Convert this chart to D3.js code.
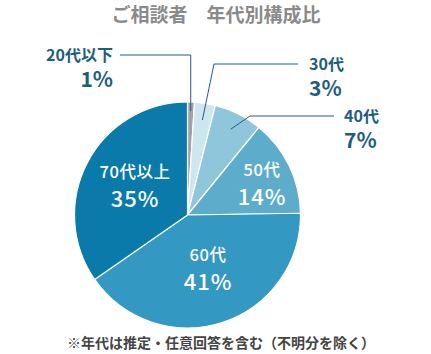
<!DOCTYPE html>
<html>
<head>
<meta charset="utf-8">
<script src="https://cdn.jsdelivr.net/npm/d3@7"></script>
<style>
body{margin:0;background:#fff;font-family:"Noto Sans CJK JP","Noto Sans",sans-serif;}
</style>
</head>
<body>
<div id="chart"></div>
<script>
var categories = ["20代以下","30代","40代","50代","60代","70代以上"];
var values = [1,3,7,14,41,35];
var pctLabels = ["1%","3%","7%","14%","41%","35%"];
var colors = ["#a2a2a2","#cde6ef","#8fc6db","#5eaccc","#3399c2","#0a7aaa"];

var w = 431, h = 354;
var cx = 187.5, cy = 215, r = 113;
var labelCol = "#1d5e7e";

var svg = d3.select("#chart").append("svg").attr("width",w).attr("height",h);

svg.append("text").attr("x",216).attr("y",22).attr("text-anchor","middle")
  .attr("font-size",19).attr("font-weight",700).attr("fill","#8a8a8a")
  .text("ご相談者\u3000年代別構成比");

var pie = d3.pie().sort(null).value(function(d){return d;});
var arcs = pie(values);
var arc = d3.arc().innerRadius(0).outerRadius(r);

var g = svg.append("g").attr("transform","translate("+cx+","+cy+")");
g.selectAll("path").data(arcs).enter().append("path")
  .attr("d",arc)
  .attr("fill",function(d,i){return colors[i];})
  .attr("stroke","#fff").attr("stroke-width",1.2);

// inside labels (50代, 60代, 70代以上)
var inner = [
  {i:3, x:262, y:176},
  {i:4, x:208, y:261},
  {i:5, x:135, y:178}
];
inner.forEach(function(o){
  svg.append("text").attr("x",o.x).attr("y",o.y).attr("text-anchor","middle")
    .attr("font-size",16.5).attr("font-weight",500).attr("letter-spacing",0.5)
    .attr("fill","#fff").text(categories[o.i]);
  svg.append("text").attr("x",o.x).attr("y",o.y+29).attr("text-anchor","middle")
    .attr("font-size",22).attr("font-weight",500).attr("letter-spacing",1)
    .attr("fill","#fff").text(pctLabels[o.i]);
});

// outside labels with leader lines
function pt(d,k){
  var a = (d.startAngle+d.endAngle)/2;
  return [cx+Math.sin(a)*r*k, cy-Math.cos(a)*r*k];
}
var p0 = pt(arcs[0],0.92), p1 = pt(arcs[1],0.85), p2 = pt(arcs[2],0.85);
var leaders = [
  [[120,55],[p0[0],55],[p0[0],p0[1]]],
  [[298,64],[214,64],p1],
  [[334,116],[250,116],p2]
];
svg.selectAll(".leader").data(leaders).enter().append("path")
  .attr("class","leader")
  .attr("d",d3.line())
  .attr("fill","none").attr("stroke",labelCol).attr("stroke-width",1);

var outer = [
  {i:0, x:113, y:61, anchor:"end"},
  {i:1, x:309, y:70, anchor:"start"},
  {i:2, x:344, y:122, anchor:"start"}
];
outer.forEach(function(o){
  svg.append("text").attr("x",o.x).attr("y",o.y).attr("text-anchor",o.anchor)
    .attr("font-size",16).attr("font-weight",700).attr("fill",labelCol).text(categories[o.i]);
  svg.append("text").attr("x",o.x).attr("y",o.y+26).attr("text-anchor",o.anchor)
    .attr("font-size",21).attr("font-weight",700).attr("fill",labelCol).text(pctLabels[o.i]);
});

svg.append("text").attr("x",221).attr("y",348).attr("text-anchor","middle")
  .attr("font-size",14).attr("font-weight",700).attr("fill","#444")
  .text("※年代は推定・任意回答を含む（不明分を除く）");
</script>
</body>
</html>
